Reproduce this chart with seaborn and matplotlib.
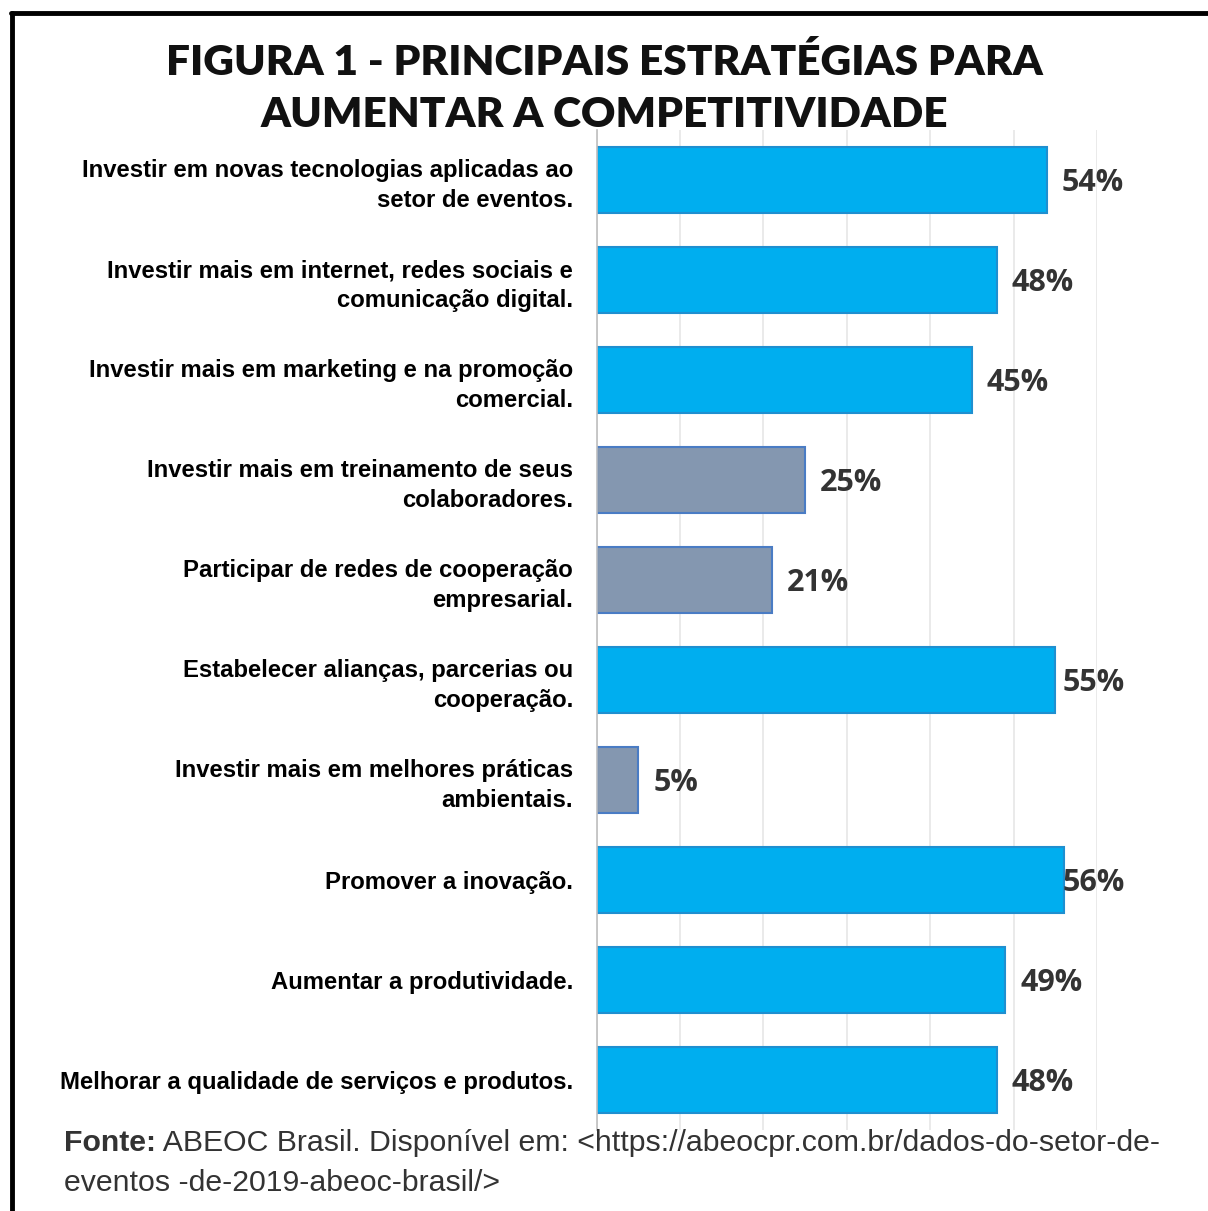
import numpy as np
import pandas as pd
import matplotlib.pyplot as plt
import seaborn as sns
from matplotlib.lines import Line2D
from matplotlib.transforms import offset_copy

# Chart data
categories = [
    'Investir em novas tecnologias aplicadas ao\nsetor de eventos.',
    'Investir mais em internet, redes sociais e\ncomunicação digital.',
    'Investir mais em marketing e na promoção\ncomercial.',
    'Investir mais em treinamento de seus\ncolaboradores.',
    'Participar de redes de cooperação\nempresarial.',
    'Estabelecer alianças, parcerias ou\ncooperação.',
    'Investir mais em melhores práticas\nambientais.',
    'Promover a inovação.',
    'Aumentar a produtividade.',
    'Melhorar a qualidade de serviços e produtos.',
]
values = [54, 48, 45, 25, 21, 55, 5, 56, 49, 48]
groups = ['alto', 'alto', 'alto', 'baixo', 'baixo', 'alto', 'baixo', 'alto', 'alto', 'alto']

title = 'FIGURA 1 - PRINCIPAIS ESTRATÉGIAS PARA\nAUMENTAR A COMPETITIVIDADE'
fonte_1 = ' ABEOC Brasil. Disponível em: <https://abeocpr.com.br/dados-do-setor-de-'
fonte_2 = 'eventos -de-2019-abeoc-brasil/>'

fill_colors = {'alto': '#00AEEF', 'baixo': '#8497B0'}
edge_colors = {'alto': '#1F8FD0', 'baixo': '#4A7CC4'}


def main():
    df = pd.DataFrame({'categoria': categories, 'valor': values, 'grupo': groups})

    sns.set_theme(style='white')
    plt.rcParams['font.family'] = ['Liberation Sans', 'DejaVu Sans']

    fig = plt.figure(figsize=(12.08, 12.11), dpi=100)
    ax = fig.add_axes([0.494, 0.067, 0.414, 0.826])

    sns.barplot(data=df, x='valor', y='categoria', hue='grupo', palette=fill_colors,
                dodge=False, legend=False, width=0.66, saturation=1, ax=ax)

    # bar outlines
    for patch, g in zip(sorted(ax.patches, key=lambda p: p.get_y()), df['grupo']):
        patch.set_edgecolor(edge_colors[g])
        patch.set_linewidth(1.5)

    ax.set_xlim(0, 60)
    ax.set_xticks(np.arange(0, 61, 10))
    ax.set_xticklabels([])
    ax.tick_params(axis='x', length=0)
    ax.grid(axis='x', color='#E6E6E6', linewidth=1.2)
    ax.set_axisbelow(True)
    for side in ['top', 'right', 'bottom']:
        ax.spines[side].set_visible(False)
    ax.spines['left'].set_color('#BFBFBF')
    ax.spines['left'].set_linewidth(1.2)

    ax.set_xlabel('')
    ax.set_ylabel('')
    ax.tick_params(axis='y', length=0, pad=17)
    for lbl in ax.get_yticklabels():
        lbl.set_fontsize(17.2)
        lbl.set_fontweight('bold')
        lbl.set_color('black')
        lbl.set_linespacing(1.4)
    # small ticks between categories
    ax.set_yticks(np.arange(-0.5, len(categories), 1), minor=True)
    ax.tick_params(axis='y', which='minor', length=4, color='#BFBFBF', width=1)

    # value labels
    for i, v in enumerate(values):
        ax.text(min(v + 1.8, 55.9), i + 0.03, f'{v}%', va='center', ha='left',
                fontsize=22, fontweight='bold', color='#333333',
                family=['Open Sans', 'DejaVu Sans'], clip_on=False)

    fig.text(0.5, 0.889, title, ha='center', va='bottom', fontsize=30.5,
             fontweight='heavy', family=['Lato', 'DejaVu Sans'],
             color='#111111', linespacing=1.45)

    t = fig.text(0.053, 0.068, 'Fonte:', ha='left', va='top', fontsize=21.8,
                 fontweight='bold', color='#333333')
    fig.canvas.draw()
    w = t.get_window_extent().width
    fig.text(0.053, 0.068, fonte_1, ha='left', va='top', fontsize=21.8, color='#333333',
             transform=offset_copy(fig.transFigure, fig=fig, x=w * 72 / fig.dpi, units='points'))
    fig.text(0.053, 0.035, fonte_2, ha='left', va='top', fontsize=21.8, color='#333333')

    # frame of the figure (top and left)
    fig.add_artist(Line2D([0.009, 1.0], [0.989, 0.989], color='black', linewidth=3.5,
                          transform=fig.transFigure))
    fig.add_artist(Line2D([0.010, 0.010], [0.0, 0.989], color='black', linewidth=3.5,
                          transform=fig.transFigure))

    fig.savefig('out.png', dpi=100, facecolor='white')
    plt.close(fig)


if __name__ == '__main__':
    main()
